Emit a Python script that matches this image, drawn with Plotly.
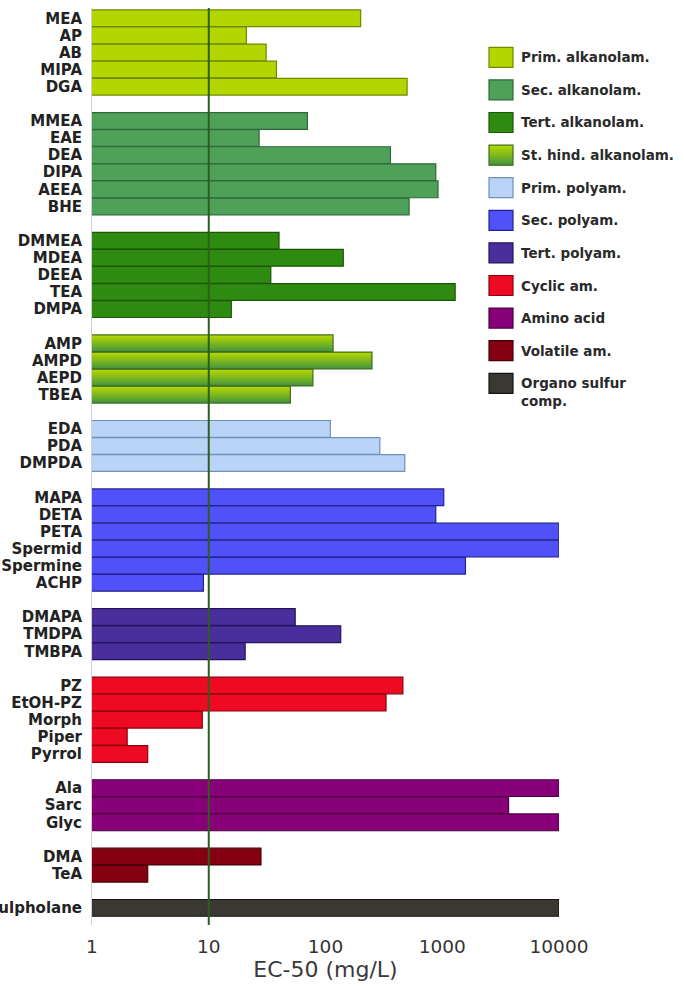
import plotly.graph_objects as go

# ---------------- data ----------------
group_names = ["Prim. alkanolam.", "Sec. alkanolam.", "Tert. alkanolam.",
               "St. hind. alkanolam.", "Prim. polyam.", "Sec. polyam.",
               "Tert. polyam.", "Cyclic am.", "Amino acid", "Volatile am.",
               "Organo sulfur<br>comp."]

prim_alk_names = ["MEA", "AP", "AB", "MIPA", "DGA"]
prim_alk_vals = [200, 21, 31, 38, 500]

sec_alk_names = ["MMEA", "EAE", "DEA", "DIPA", "AEEA", "BHE"]
sec_alk_vals = [70, 27, 360, 880, 920, 520]

tert_alk_names = ["DMMEA", "MDEA", "DEEA", "TEA", "DMPA"]
tert_alk_vals = [40, 142, 34, 1290, 15.6]

hind_alk_names = ["AMP", "AMPD", "AEPD", "TBEA"]
hind_alk_vals = [116, 250, 78, 50]

prim_poly_names = ["EDA", "PDA", "DMPDA"]
prim_poly_vals = [110, 292, 478]

sec_poly_names = ["MAPA", "DETA", "PETA", "Spermid", "Spermine", "ACHP"]
sec_poly_vals = [1030, 880, 10000, 10000, 1580, 9]

tert_poly_names = ["DMAPA", "TMDPA", "TMBPA"]
tert_poly_vals = [55, 135, 20.5]

cyclic_names = ["PZ", "EtOH-PZ", "Morph", "Piper", "Pyrrol"]
cyclic_vals = [460, 330, 8.8, 2, 3]

amino_names = ["Ala", "Sarc", "Glyc"]
amino_vals = [10000, 3700, 10000]

volatile_names = ["DMA", "TeA"]
volatile_vals = [28, 3]

sulfur_names = ["Sulpholane"]
sulfur_vals = [10000]

threshold = 10

x_tick_vals = [1, 10, 100, 1000, 10000]
x_tick_text = ["1", "10", "100", "1000", "10000"]
x_title = "EC-50 (mg/L)"

# ---------------- styles ----------------
fills = ["#b3d600", "#4fa15a", "#2f8a12", None, "#b9d4f7", "#5151fa",
         "#4a2e9c", "#ee0a22", "#870077", "#850010", "#3b3732"]
outlines = ["#6e8a00", "#2e6a38", "#1c5608", "#3f6e1e", "#7090b8", "#23238f",
            "#23145a", "#8f000f", "#4a0042", "#450006", "#151515"]
grad_top = (182, 216, 0)
grad_bot = (72, 150, 62)

groups = [
    (prim_alk_names, prim_alk_vals), (sec_alk_names, sec_alk_vals),
    (tert_alk_names, tert_alk_vals), (hind_alk_names, hind_alk_vals),
    (prim_poly_names, prim_poly_vals), (sec_poly_names, sec_poly_vals),
    (tert_poly_names, tert_poly_vals), (cyclic_names, cyclic_vals),
    (amino_names, amino_vals), (volatile_names, volatile_vals),
    (sulfur_names, sulfur_vals),
]

def lerp(c1, c2, t):
    return "rgb(%d,%d,%d)" % tuple(round(a + (b - a) * t) for a, b in zip(c1, c2))

W = 0.98
fig = go.Figure()
slot = 0
tickvals, ticktext = [], []
for gi, (names, vals) in enumerate(groups):
    ys = list(range(slot, slot + len(names)))
    slot += len(names) + 1
    tickvals += ys
    ticktext += names
    if fills[gi] is None:
        n = 16
        sw = W / n
        for k in range(n):
            # each strip reaches to the bar bottom so later strips cover seams
            fig.add_trace(go.Bar(
                x=vals, y=ys, orientation="h", width=W - k * sw,
                offset=-W / 2 + k * sw,
                marker=dict(color=lerp(grad_top, grad_bot, k / (n - 1)), line=dict(width=0)),
                showlegend=False, hoverinfo="skip"))
        fig.add_trace(go.Bar(
            x=vals, y=ys, orientation="h", width=W,
            marker=dict(color="rgba(0,0,0,0)", line=dict(color=outlines[gi], width=1.2)),
            showlegend=False, hovertext=names, hoverinfo="x+text"))
    else:
        fig.add_trace(go.Bar(
            x=vals, y=ys, orientation="h", width=W,
            marker=dict(color=fills[gi], line=dict(color=outlines[gi], width=1.2)),
            showlegend=False, hovertext=names, hoverinfo="x+text"))

y_top, y_bot = -0.6, slot - 1.0
fig.add_trace(go.Scatter(x=[threshold, threshold], y=[y_top, y_bot], mode="lines",
                         line=dict(color="#2c5e1c", width=2), showlegend=False,
                         hoverinfo="skip"))

# ---------------- layout ----------------
L, R, T, B = 92, 559, 8, 925
PW, PH = R - L, B - T

def px_x(p):
    return (p - L) / PW

def px_y(p):
    return (B - p) / PH

shapes = []
annotations = []
for k, name in enumerate(group_names):
    yc = 57.3 + k * 32.6
    x0, x1 = 489, 513
    y0, y1 = yc - 10, yc + 10
    if fills[k] is None:
        n = 12
        for j in range(n):
            shapes.append(dict(type="rect", xref="paper", yref="paper",
                               x0=px_x(x0), x1=px_x(x1),
                               y0=px_y(y0 + (y1 - y0) * j / n),
                               y1=px_y(y1),
                               fillcolor=lerp(grad_top, grad_bot, j / (n - 1)),
                               line=dict(width=0), layer="above"))
        shapes.append(dict(type="rect", xref="paper", yref="paper",
                           x0=px_x(x0), x1=px_x(x1), y0=px_y(y0), y1=px_y(y1),
                           fillcolor="rgba(0,0,0,0)",
                           line=dict(color=outlines[k], width=1.2), layer="above"))
    else:
        shapes.append(dict(type="rect", xref="paper", yref="paper",
                           x0=px_x(x0), x1=px_x(x1), y0=px_y(y0), y1=px_y(y1),
                           fillcolor=fills[k],
                           line=dict(color=outlines[k], width=1.2), layer="above"))
    multi = "<br>" in name
    annotations.append(dict(
        x=px_x(519), y=px_y(y0 if multi else yc), xref="paper", yref="paper",
        text=name, showarrow=False, xanchor="left",
        yanchor="top" if multi else "middle", align="left",
        font=dict(family="DejaVu Sans", size=13.5, color="#2a2a2a", weight="bold")))

fig.update_layout(
    width=684, height=987,
    margin=dict(l=L, r=684 - R, t=T, b=987 - B, autoexpand=False),
    paper_bgcolor="white", plot_bgcolor="white",
    barmode="overlay", showlegend=False,
    shapes=shapes, annotations=annotations,
    xaxis=dict(type="log", range=[0, 4], tickvals=x_tick_vals, ticktext=x_tick_text,
               showgrid=False, zeroline=False, showline=False, ticks="",
               automargin=False, ticklabelstandoff=8,
               tickfont=dict(family="DejaVu Sans", size=18.5, color="#333333"),
               title=dict(text=x_title, standoff=6,
                          font=dict(family="DejaVu Sans", size=22, color="#3a3a3a"))),
    yaxis=dict(range=[y_bot, y_top], tickvals=tickvals, ticktext=ticktext,
               showgrid=False, zeroline=False, showline=True, linecolor="#d0d0d0",
               linewidth=1, ticks="", automargin=False, ticklabelstandoff=6,
               tickfont=dict(family="DejaVu Sans", size=15, color="#222222", weight="bold")),
)

fig.write_html("out.html")
